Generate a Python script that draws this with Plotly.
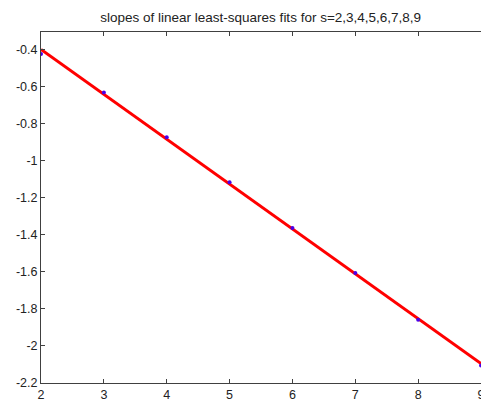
import numpy as np
import plotly.graph_objects as go

# window sizes s and the fitted slope for each
s_values = [2, 3, 4, 5, 6, 7, 8, 9]
slopes = [-0.422, -0.630, -0.872, -1.115, -1.362, -1.605, -1.858, -2.106]

x_ticks = [2, 3, 4, 5, 6, 7, 8, 9]
y_ticks = [-0.4, -0.6, -0.8, -1.0, -1.2, -1.4, -1.6, -1.8, -2.0, -2.2]
y_tick_text = ["-0.4", "-0.6", "-0.8", "-1", "-1.2", "-1.4", "-1.6", "-1.8", "-2", "-2.2"]

# straight-line least-squares fit through the slopes
coef = np.polyfit(s_values, slopes, 1)
fit_x = [s_values[0], s_values[-1]]
fit_y = list(np.polyval(coef, fit_x))

fig = go.Figure()
fig.add_trace(go.Scatter(
    x=fit_x, y=fit_y, mode="lines",
    line=dict(color="#ff0000", width=3), hoverinfo="skip",
))
fig.add_trace(go.Scatter(
    x=s_values, y=slopes, mode="markers",
    marker=dict(color="#4a00e8", size=4),
))

tick_font = dict(family="Arial, Liberation Sans", size=12.5, color="#222")
fig.update_xaxes(
    range=[2, 9], tickvals=x_ticks, ticklabeloverflow="allow", automargin=False,
    showgrid=False, zeroline=False, showline=True, linecolor="#404040",
    linewidth=1, mirror="allticks", ticks="inside", ticklen=4,
    tickcolor="#404040", tickfont=tick_font,
)
fig.update_yaxes(
    range=[-2.2, -0.303], tickvals=y_ticks, ticktext=y_tick_text, automargin=False,
    showgrid=False, zeroline=False, showline=True, linecolor="#404040",
    linewidth=1, mirror=False, ticks="inside", ticklen=4,
    tickcolor="#404040", tickfont=tick_font,
)

fig.update_layout(
    width=481, height=401,
    margin=dict(l=41, r=0, t=32, b=18),
    paper_bgcolor="white", plot_bgcolor="white",
    showlegend=False,
    title=dict(
        text="slopes of linear least-squares fits for s=2,3,4,5,6,7,8,9",
        x=0.542, xanchor="center", y=0.958, yanchor="middle",
        font=dict(family="Arial, Liberation Sans", size=13.5, color="#222"),
    ),
)

fig.write_html("out.html")
